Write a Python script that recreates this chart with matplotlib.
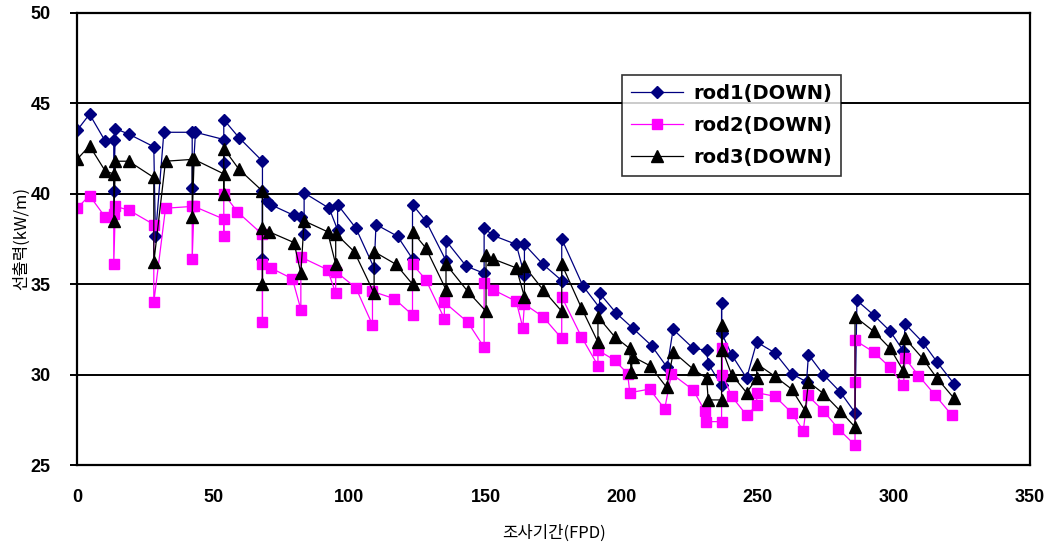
import matplotlib
matplotlib.use("Agg")
import matplotlib.pyplot as plt

# Linear power of three rods versus irradiation days (FPD)
rod1_x = [0, 4.6, 10.4, 13.5, 13.5, 14.1, 19, 28.2, 28.8, 31.9, 42.3, 42.3, 43.5,
          53.9, 53.9, 53.9, 59.5, 68.1, 68.1, 68.1, 69.9, 71.1, 79.7, 82.2, 83.4, 83.4,
          92.6, 95.7, 95.7, 102.4, 109.1, 109.8, 117.7, 123.2, 123.2, 128.1, 135.5,
          135.5, 142.9, 149.5, 149.5, 152.7, 161.3, 164.3, 164.3, 171.1, 178, 178,
          185.8, 191.9, 191.9, 198, 204.2, 211, 216.7, 218.9, 226.3, 231.2, 231.8,
          236.7, 236.7, 236.7, 240.4, 245.9, 249.6, 256.3, 262.4, 267.9, 268.6, 274.1,
          280.2, 285.7, 286.4, 292.5, 298.6, 303.5, 304.1, 310.5, 315.8, 322]
rod1_y = [43.5, 44.4, 42.9, 43.0, 40.15, 43.6, 43.3, 42.6, 37.65, 43.4, 43.4, 40.3, 43.4,
          43.0, 41.7, 44.1, 43.1, 41.8, 36.4, 40.15, 39.6, 39.4, 38.8, 38.7, 37.8, 40.05,
          39.2, 38.0, 39.4, 38.1, 35.9, 38.3, 37.65, 36.4, 39.4, 38.5, 36.3,
          37.4, 36.0, 35.6, 38.1, 37.7, 37.2, 35.5, 37.2, 36.1, 35.2, 37.5,
          34.9, 33.7, 34.5, 33.4, 32.55, 31.6, 30.4, 32.5, 31.45, 31.35, 30.6,
          29.4, 33.95, 32.3, 31.1, 29.8, 31.8, 31.2, 30.05, 29.6, 31.1, 30.0,
          29.05, 27.9, 34.1, 33.3, 32.4, 31.3, 32.8, 31.8, 30.7, 29.5]

rod2_x = [0, 4.6, 10.4, 13.5, 13.5, 14.1, 19, 28.2, 28.2, 32.5, 42.3, 42.3, 43.0,
          53.9, 53.9, 53.9, 58.9, 68.1, 68.1, 68.1, 71.1, 79.1, 82.2, 82.2, 92, 95, 95,
          102.4, 108.5, 108.5, 116.5, 123.2, 123.2, 128.1, 134.9, 134.9, 143.5, 149.5,
          149.5, 152.7, 161.3, 163.7, 164.3, 171.1, 178, 178, 185.2, 191.3, 191.3,
          197.4, 202.2, 203, 210.3, 215.8, 218.3, 226.3, 230.5, 231, 236.7, 236.7, 237,
          240.4, 245.9, 249.6, 249.6, 256.3, 262.4, 266.7, 268.3, 274.1, 279.6, 285.7,
          285.7, 285.7, 292.5, 298.6, 303.5, 304.1, 309, 315.2, 321.3]
rod2_y = [39.2, 39.9, 38.7, 38.9, 36.1, 39.3, 39.1, 38.3, 34.0, 39.2, 39.3, 36.4, 39.3,
          38.6, 37.65, 40.0, 39.0, 37.75, 32.9, 36.1, 35.9, 35.3, 33.6, 36.5, 35.8, 34.5, 35.7,
          34.8, 32.75, 34.6, 34.2, 33.3, 36.1, 35.25, 33.1, 34.0, 32.9, 31.5,
          35.05, 34.7, 34.05, 32.6, 33.9, 33.2, 32.0, 34.3, 32.1, 30.5, 31.35,
          30.8, 30.05, 29.0, 29.2, 28.1, 30.05, 29.15, 28.0, 27.4, 27.4, 31.45, 30.0,
          28.8, 27.75, 28.3, 29.0, 28.8, 27.9, 26.9, 28.85, 28.0, 27.0, 26.1,
          29.6, 31.9, 31.25, 30.4, 29.4, 30.9, 29.95, 28.85, 27.75]

rod3_x = [0, 4.6, 10.4, 13.5, 13.5, 14.1, 19, 28.2, 28.2, 32.5, 42.3, 42.3, 43.0,
          53.9, 53.9, 53.9, 59.5, 68.1, 68.1, 68.1, 70.5, 79.7, 82.2, 83.4, 92, 95, 95,
          101.8, 109.1, 109.1, 117.1, 123.2, 123.2, 128.1, 135.5, 135.5, 143.5, 150.2,
          150.2, 152.7, 161.3, 164.3, 164.3, 171.1, 178, 178, 185.2, 191.3, 191.3,
          197.4, 202.9, 203.5, 204, 210.3, 216.5, 219, 226.3, 231.2, 231.8, 236.7,
          236.7, 237, 240.4, 245.9, 249.6, 249.6, 256.3, 262.4, 267.4, 268.6, 274.1,
          280.2, 285.7, 285.7, 292.5, 298.6, 303.5, 304.1, 310.5, 315.8, 322]
rod3_y = [41.9, 42.65, 41.25, 41.1, 38.5, 41.8, 41.8, 40.9, 36.2, 41.8, 41.9, 38.7, 41.9,
          41.1, 40.0, 42.5, 41.35, 40.15, 35.0, 38.1, 37.9, 37.3, 35.6, 38.5, 37.9, 36.1, 37.8,
          36.8, 34.5, 36.8, 36.1, 35.0, 37.9, 37.0, 34.7, 36.1, 34.6, 33.5,
          36.6, 36.4, 35.9, 34.3, 36.0, 34.7, 33.5, 36.1, 33.7, 31.8, 33.2,
          32.1, 31.45, 30.15, 31.0, 30.5, 29.3, 31.25, 30.3, 29.8, 28.6, 28.6,
          32.75, 31.35, 30.0, 29.0, 29.8, 30.6, 29.9, 29.2, 28.0, 29.6, 28.95,
          28.0, 27.1, 33.2, 32.4, 31.45, 30.2, 32.0, 30.9, 29.8, 28.7]

series = [
    ("rod1(DOWN)", rod1_x, rod1_y, "#000080", "D", 6.5),
    ("rod2(DOWN)", rod2_x, rod2_y, "#FF00FF", "s", 7.5),
    ("rod3(DOWN)", rod3_x, rod3_y, "#000000", "^", 8.5),
]

x_ticks = [0, 50, 100, 150, 200, 250, 300, 350]
y_ticks = [25, 30, 35, 40, 45, 50]

fig = plt.figure(figsize=(10.52, 5.5), dpi=100)
ax = fig.add_axes([0.0732, 0.1545, 0.906, 0.822])

for label, xs, ys, color, marker, ms in series:
    ax.plot(xs, ys, color=color, linewidth=0.9, marker=marker, markersize=ms,
            markerfacecolor=color, markeredgecolor=color, label=label)

ax.set_xlim(0, 350)
ax.set_ylim(25, 50)
ax.set_xticks(x_ticks)
ax.set_yticks(y_ticks)

for y in y_ticks[1:-1]:
    ax.axhline(y, color="black", linewidth=1.4, zorder=0)

for sp in ax.spines.values():
    sp.set_linewidth(1.6)
    sp.set_color("black")

tick_family = ["Liberation Sans Narrow", "Liberation Sans", "DejaVu Sans"]
ax.tick_params(axis="y", direction="out", length=5, width=1.4, pad=14)
ax.tick_params(axis="x", length=0, pad=17)
for t in ax.get_xticklabels() + ax.get_yticklabels():
    t.set_fontfamily(tick_family)
    t.set_fontweight("bold")
    t.set_fontsize(13)

ax.set_xlabel("조사기간(FPD)", family=["Noto Sans CJK KR", "DejaVu Sans"],
              fontsize=12, labelpad=14)
ax.set_ylabel("선출력(kW/m)", family=["Noto Sans CJK KR", "DejaVu Sans"],
              fontsize=12, labelpad=0)

leg = ax.legend(loc="upper left", bbox_to_anchor=(0.572, 0.863), frameon=True,
                fancybox=False, edgecolor="black", handlelength=2.7,
                borderpad=0.45, labelspacing=0.68, handletextpad=0.5,
                borderaxespad=0.0,
                prop=dict(family=["DejaVu Sans"], weight="bold", size=14))
leg.get_frame().set_linewidth(1.2)
leg.set_zorder(5)

fig.savefig("out.png", dpi=100, facecolor="white")
